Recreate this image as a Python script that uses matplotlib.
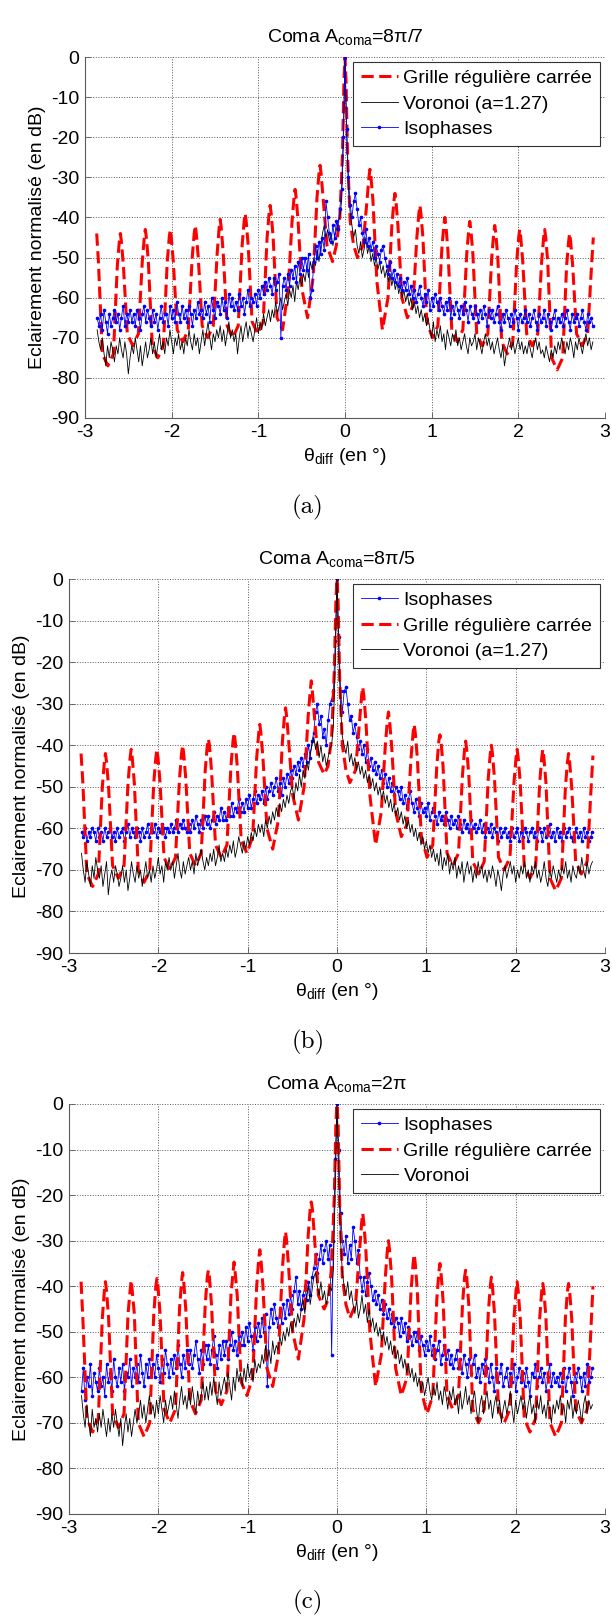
import numpy as np
import matplotlib
matplotlib.use('Agg')
import matplotlib.pyplot as plt

plt.rcParams['font.family'] = ['Liberation Sans', 'DejaVu Sans']
plt.rcParams['mathtext.default'] = 'regular'
plt.rcParams['axes.unicode_minus'] = False

# sampling of the simulated noisy patterns (deg), 0.02 deg step
theta = np.linspace(-2.86, 2.86, 287)

# sampling used for the regular square grid pattern (lobes every ~0.288 deg)
red_theta = [
    -2.865, -2.845, -2.800, -2.736,
    -2.672, -2.627, -2.604, -2.592, -2.580, -2.557, -2.512, -2.448,
    -2.384, -2.339, -2.316, -2.304, -2.292, -2.269, -2.224, -2.160,
    -2.096, -2.051, -2.028, -2.016, -2.004, -1.981, -1.936, -1.872,
    -1.808, -1.763, -1.740, -1.728, -1.716, -1.693, -1.648, -1.584,
    -1.520, -1.475, -1.452, -1.440, -1.428, -1.405, -1.360, -1.296,
    -1.232, -1.187, -1.164, -1.152, -1.140, -1.117, -1.072, -1.008,
    -0.944, -0.899, -0.876, -0.864, -0.852, -0.829, -0.784, -0.720,
    -0.656, -0.611, -0.588, -0.576, -0.564, -0.541, -0.496, -0.432,
    -0.368, -0.323, -0.300, -0.288, -0.276, -0.253, -0.208, -0.144,
    -0.100, -0.060, -0.030, -0.012, 0.000, 0.012, 0.030, 0.060, 0.100, 0.144,
    0.208, 0.253, 0.276, 0.288, 0.300, 0.323, 0.368, 0.432,
    0.496, 0.541, 0.564, 0.576, 0.588, 0.611, 0.656, 0.720,
    0.784, 0.829, 0.852, 0.864, 0.876, 0.899, 0.944, 1.008,
    1.072, 1.117, 1.140, 1.152, 1.164, 1.187, 1.232, 1.296,
    1.360, 1.405, 1.428, 1.440, 1.452, 1.475, 1.520, 1.584,
    1.648, 1.693, 1.716, 1.728, 1.740, 1.763, 1.808, 1.872,
    1.936, 1.981, 2.004, 2.016, 2.028, 2.051, 2.096, 2.160,
    2.224, 2.269, 2.292, 2.304, 2.316, 2.339, 2.384, 2.448,
    2.512, 2.557, 2.580, 2.592, 2.604, 2.627, 2.672, 2.736,
    2.800, 2.845, 2.865,
]

# ---- (a) Coma 8pi/7 ----
grille_a = [
    -44, -51, -74, -77,
    -74, -52, -46, -44, -46, -52, -69, -72,
    -69, -51, -45, -43, -45, -51, -72, -75,
    -72, -51, -45, -43, -45, -51, -68, -71,
    -68, -50, -44, -42, -44, -50, -67, -70,
    -67, -49, -42.5, -40.5, -42.5, -49, -67, -70,
    -67, -47, -41, -39, -41, -47, -66, -69,
    -66, -45, -39, -37, -39, -45, -65, -68,
    -58, -41, -35, -33, -35, -41, -58, -65,
    -55, -35, -29, -27, -29, -35, -47, -51,
    -47, -40, -25, -6, 0, -6, -25, -41, -47, -50,
    -47, -36, -30, -28, -30, -36, -56, -68,
    -60, -42, -36, -34, -36, -42, -60, -65,
    -62, -45, -39, -37, -39, -45, -66, -70,
    -67, -48, -42, -40, -42, -48, -68, -71,
    -68, -49, -43, -41, -43, -49, -69, -72,
    -69, -50, -44, -42, -44, -50, -71, -74,
    -71, -51, -45, -43, -45, -51, -69, -72,
    -69, -51, -45, -43, -45, -51, -75, -78,
    -75, -52, -46, -44, -46, -52, -69, -72,
    -69, -52, -45,
]
voronoi_a = [
    -68, -71, -73, -70, -74, -77, -72, -75, -71, -73,
    -76, -72, -74, -70, -73, -75, -71, -74, -79, -75,
    -72, -74, -70, -73, -76, -72, -77, -74, -71, -75,
    -73, -70, -74, -71, -75, -72, -69, -73, -71, -74,
    -70, -72, -68, -71, -74, -70, -72, -69, -73, -71,
    -74, -70, -72, -68, -71, -73, -69, -72, -70, -74,
    -71, -68, -72, -69, -66, -70, -73, -69, -71, -68,
    -70, -67, -71, -68, -72, -69, -66, -70, -68, -71,
    -69, -74, -70, -67, -71, -68, -66, -70, -67, -69,
    -71, -68, -65, -69, -66, -68, -64, -67, -65, -63,
    -66, -63, -65, -61, -64, -62, -60, -63, -61, -59,
    -62, -58, -60, -57, -61, -56, -58, -55, -57, -54,
    -56, -52, -55, -51, -53, -50, -52, -48, -51, -47,
    -44, -42, -45, -43, -46, -44, -47, -45, -43, -41,
    -40, -36, -22,
    0,
    -20, -33, -39,
    -42, -45, -43, -47, -49, -46, -50, -48, -45, -49,
    -47, -51, -49, -52, -50, -53, -51, -54, -52, -55,
    -53, -56, -54, -57, -55, -58, -56, -59, -57, -60,
    -58, -61, -59, -62, -60, -63, -61, -64, -62, -65,
    -63, -66, -64, -67, -65, -68, -70, -66, -71, -68,
    -70, -67, -71, -69, -73, -68, -70, -72, -69, -71,
    -68, -72, -70, -73, -71, -69, -72, -74, -70, -72,
    -71, -69, -73, -70, -72, -74, -71, -69, -72, -70,
    -73, -71, -74, -72, -70, -73, -75, -72, -77, -74,
    -72, -70, -73, -71, -74, -72, -70, -73, -71, -74,
    -72, -74, -71, -73, -75, -72, -70, -73, -71, -74,
    -73, -75, -72, -74, -76, -73, -75, -72, -74, -71,
    -73, -70, -72, -74, -71, -73, -70, -72, -75, -71,
    -73, -70, -72, -74, -71, -69, -72, -70, -73, -71,
]
isophases_a = [
    -65, -67, -64, -68, -63, -66, -69, -64, -67, -65,
    -63, -66, -64, -68, -65, -62, -67, -64, -66, -63,
    -66, -64, -67, -63, -65, -68, -64, -62, -66, -63,
    -65, -67, -63, -66, -64, -68, -65, -62, -66, -64,
    -64, -67, -62, -65, -63, -66, -61, -64, -66, -62,
    -65, -63, -66, -62, -64, -67, -63, -65, -61, -64,
    -63, -65, -61, -64, -62, -66, -60, -63, -65, -61,
    -62, -64, -60, -63, -61, -65, -59, -62, -60, -63,
    -61, -63, -59, -62, -60, -64, -61, -58, -62, -60,
    -61, -59, -62, -58, -60, -57, -59, -56, -58, -55,
    -57, -59, -55, -58, -56, -54, -70, -57, -55, -58,
    -54, -57, -53, -55, -52, -56, -51, -54, -50, -53,
    -50, -53, -49, -60, -58, -51, -47, -50, -46, -49,
    -45, -48, -36, -40, -44, -46, -42, -45, -41, -43,
    -38, -33, -20,
    0,
    -18, -30, -37,
    -40, -36, -34, -38, -42, -40, -44, -46, -43, -47,
    -45, -48, -46, -50, -47, -49, -51, -48, -47, -50,
    -52, -54, -51, -55, -53, -56, -54, -57, -55, -58,
    -56, -58, -55, -59, -57, -60, -58, -61, -59, -57,
    -60, -62, -59, -61, -58, -63, -60, -62, -59, -61,
    -63, -60, -62, -64, -61, -63, -60, -65, -62, -64,
    -61, -63, -65, -62, -64, -61, -63, -66, -62, -64,
    -65, -62, -64, -66, -63, -65, -62, -64, -67, -63,
    -65, -63, -66, -64, -62, -66, -68, -64, -66, -63,
    -65, -67, -64, -66, -63, -65, -68, -64, -66, -65,
    -63, -66, -64, -67, -65, -63, -66, -68, -64, -66,
    -65, -63, -67, -64, -66, -68, -65, -63, -67, -65,
    -66, -64, -67, -65, -63, -66, -68, -64, -66, -65,
    -64, -67, -65, -63, -66, -68, -64, -66, -65, -67,
]

# ---- (b) Coma 8pi/5 ----
grille_b = [
    -42, -49, -71, -74,
    -71, -50, -44, -42, -44, -50, -69, -72,
    -69, -49, -43, -41, -43, -49, -70, -73,
    -70, -49, -43, -41, -43, -49, -67, -70,
    -67, -48, -42, -40, -42, -48, -66, -69,
    -66, -46, -40, -38.5, -40, -46, -64, -67,
    -64, -45, -39, -37, -39, -45, -63, -66,
    -62, -43, -37, -35, -37, -43, -60, -65,
    -58, -39, -33, -31, -33, -39, -52, -58,
    -50, -33, -27, -24.5, -27, -33, -44, -47,
    -45, -38, -22, -5, 0, -5, -24, -40, -46, -49,
    -46, -34, -28, -26, -28, -34, -52, -64,
    -56, -40, -34, -32, -34, -40, -56, -62,
    -59, -43, -37, -35, -37, -43, -62, -67,
    -64, -45, -39, -37.5, -39, -45, -66, -69,
    -66, -47, -41, -39, -41, -47, -68, -71,
    -68, -48, -42, -40, -42, -48, -67, -70,
    -67, -49, -43, -41, -43, -49, -69, -72,
    -69, -49, -43, -41, -43, -49, -72, -75,
    -72, -50, -44, -42, -44, -50, -68, -71,
    -68, -50, -42.5,
]
voronoi_b = [
    -66, -70, -73, -68, -71, -74, -69, -72, -67, -70,
    -72, -69, -74, -71, -68, -76, -72, -70, -73, -69,
    -71, -74, -72, -69, -73, -70, -75, -72, -68, -71,
    -73, -69, -72, -70, -74, -71, -68, -72, -70, -73,
    -69, -72, -70, -67, -71, -69, -73, -68, -70, -67,
    -70, -68, -72, -69, -66, -70, -72, -68, -71, -69,
    -67, -70, -68, -71, -66, -69, -67, -65, -68, -70,
    -67, -69, -66, -68, -65, -69, -67, -64, -68, -66,
    -68, -65, -67, -64, -66, -63, -67, -65, -62, -64,
    -66, -63, -65, -62, -64, -61, -63, -60, -62, -59,
    -61, -59, -62, -58, -60, -57, -59, -56, -58, -55,
    -57, -54, -56, -53, -55, -52, -54, -51, -50, -53,
    -49, -51, -47, -50, -46, -48, -44, -46, -42, -40,
    -38, -41, -39, -43, -40, -44, -42, -45, -43, -41,
    -40, -35, -20,
    0,
    -18, -31, -38,
    -40, -42, -39, -44, -42, -45, -43, -46, -44, -47,
    -45, -48, -46, -49, -47, -50, -48, -51, -49, -52,
    -50, -53, -51, -54, -52, -55, -53, -56, -54, -57,
    -55, -58, -56, -59, -57, -60, -58, -61, -59, -62,
    -60, -63, -61, -64, -62, -65, -63, -66, -64, -67,
    -65, -68, -66, -69, -65, -70, -67, -69, -66, -71,
    -68, -70, -67, -72, -69, -71, -68, -73, -70, -68,
    -71, -69, -73, -70, -72, -68, -71, -69, -72, -70,
    -73, -70, -72, -69, -71, -74, -70, -72, -75, -71,
    -69, -72, -70, -68, -71, -69, -73, -70, -72, -69,
    -71, -68, -72, -70, -73, -69, -71, -68, -72, -70,
    -73, -71, -68, -72, -74, -70, -72, -69, -71, -73,
    -70, -72, -69, -71, -68, -72, -70, -73, -69, -71,
    -72, -69, -71, -67, -70, -72, -68, -71, -69, -68,
]
isophases_b = [
    -61, -62, -60, -63, -61, -62, -60, -61, -63, -60,
    -62, -61, -63, -60, -62, -61, -60, -62, -61, -63,
    -60, -62, -61, -60, -63, -61, -59, -62, -60, -61,
    -62, -60, -61, -63, -60, -62, -61, -59, -62, -60,
    -61, -59, -62, -60, -61, -59, -60, -62, -60, -61,
    -59, -61, -60, -58, -61, -59, -60, -58, -60, -61,
    -59, -61, -58, -60, -57, -59, -61, -58, -60, -57,
    -59, -57, -60, -58, -56, -59, -57, -58, -55, -58,
    -56, -58, -55, -57, -54, -57, -55, -56, -53, -56,
    -54, -56, -53, -55, -52, -55, -53, -51, -54, -52,
    -53, -51, -54, -50, -53, -51, -49, -52, -50, -48,
    -51, -49, -52, -48, -50, -47, -49, -46, -48, -45,
    -47, -44, -46, -43, -45, -42, -44, -40, -43, -39,
    -37, -32, -30, -35, -33, -38, -36, -40, -34, -30,
    -29, -27, -15,
    0,
    -14, -27, -32,
    -27, -26, -30, -34, -33, -37, -35, -38, -41, -39,
    -42, -40, -44, -41, -45, -43, -46, -44, -47, -45,
    -48, -46, -49, -47, -50, -48, -51, -49, -52, -50,
    -51, -53, -50, -54, -52, -55, -53, -51, -54, -56,
    -53, -55, -57, -54, -56, -55, -57, -54, -58, -56,
    -55, -57, -59, -56, -58, -57, -59, -56, -58, -60,
    -57, -59, -58, -60, -57, -59, -61, -58, -60, -59,
    -61, -58, -60, -59, -61, -60, -58, -61, -59, -62,
    -60, -61, -59, -62, -60, -61, -63, -60, -62, -61,
    -60, -62, -61, -63, -60, -62, -61, -60, -63, -61,
    -62, -60, -61, -63, -61, -60, -62, -61, -63, -60,
    -61, -63, -60, -62, -61, -59, -62, -61, -63, -60,
    -62, -61, -63, -60, -62, -61, -60, -62, -63, -61,
    -60, -62, -61, -63, -60, -62, -61, -63, -62, -61,
]

# ---- (c) Coma 2pi ----
grille_c = [
    -39, -47, -69, -72,
    -69, -47, -41, -39, -41, -47, -68, -71,
    -68, -46, -41, -38.7, -41, -46, -70, -73,
    -70, -46, -40, -38.3, -40, -46, -67, -70,
    -67, -45, -39, -37, -39, -45, -65, -68,
    -65, -44, -38, -36.5, -38, -44, -63, -66,
    -63, -42, -37, -34.7, -37, -42, -61, -64,
    -60, -40, -34, -32, -34, -40, -58, -62,
    -55, -36, -30, -28, -30, -36, -50, -56,
    -47, -29, -23, -21.5, -23, -29, -42, -45,
    -43, -36, -20, -4, 0, -4, -22, -38, -44, -47,
    -44, -32, -26, -24, -26, -32, -50, -62,
    -55, -38, -32, -30, -32, -38, -58, -64,
    -60, -41, -35, -33, -35, -41, -63, -68,
    -64, -43, -37, -35, -37, -43, -64, -67,
    -64, -44, -38, -36.5, -38, -44, -67, -70,
    -67, -46, -40, -38, -40, -46, -67, -70,
    -67, -47, -41, -39, -41, -47, -69, -72,
    -69, -47, -41, -39.4, -41, -47, -70, -73,
    -70, -47, -41, -39.4, -41, -47, -67, -70,
    -67, -48, -40,
]
voronoi_c = [
    -64, -68, -71, -66, -70, -73, -67, -71, -69, -72,
    -68, -71, -67, -70, -73, -69, -72, -68, -71, -67,
    -70, -73, -69, -75, -71, -68, -72, -69, -73, -70,
    -67, -70, -68, -65, -69, -66, -70, -67, -64, -68,
    -66, -69, -65, -68, -64, -67, -70, -65, -68, -66,
    -64, -67, -63, -66, -69, -65, -62, -66, -64, -67,
    -63, -66, -62, -65, -68, -63, -66, -64, -61, -65,
    -62, -65, -61, -64, -60, -63, -66, -61, -64, -62,
    -60, -63, -59, -62, -65, -60, -63, -58, -61, -59,
    -62, -58, -61, -57, -60, -58, -61, -56, -59, -57,
    -58, -55, -57, -53, -56, -54, -57, -52, -55, -53,
    -54, -51, -53, -50, -52, -49, -51, -48, -50, -47,
    -49, -46, -48, -45, -43, -46, -42, -40, -44, -41,
    -38, -37, -40, -42, -39, -43, -41, -44, -42, -40,
    -41, -36, -18,
    0,
    -16, -30, -37,
    -40, -42, -39, -43, -41, -44, -46, -43, -47, -45,
    -42, -46, -44, -48, -45, -49, -47, -50, -48, -51,
    -49, -52, -50, -53, -51, -54, -52, -55, -53, -56,
    -54, -57, -55, -58, -56, -59, -57, -60, -58, -61,
    -59, -62, -60, -63, -61, -64, -62, -60, -63, -65,
    -62, -64, -61, -65, -63, -66, -62, -64, -67, -63,
    -65, -62, -66, -64, -68, -63, -67, -65, -62, -66,
    -64, -68, -65, -63, -67, -70, -66, -64, -68, -65,
    -63, -67, -65, -69, -66, -64, -68, -65, -70, -67,
    -65, -68, -66, -63, -67, -70, -65, -68, -66, -64,
    -67, -65, -69, -66, -64, -68, -66, -70, -65, -67,
    -64, -68, -66, -69, -65, -67, -70, -66, -68, -65,
    -67, -64, -68, -66, -70, -65, -67, -64, -69, -66,
    -68, -65, -67, -70, -66, -64, -68, -65, -67, -66,
]
isophases_c = [
    -63, -58, -65, -60, -62, -57, -64, -59, -61, -63,
    -58, -62, -60, -64, -57, -61, -59, -63, -56, -60,
    -62, -58, -61, -57, -63, -59, -60, -56, -62, -58,
    -60, -57, -61, -55, -59, -62, -57, -60, -56, -59,
    -57, -60, -55, -58, -61, -56, -59, -54, -57, -60,
    -56, -59, -55, -58, -53, -57, -60, -55, -58, -54,
    -57, -54, -58, -55, -52, -56, -59, -54, -57, -53,
    -56, -53, -57, -54, -51, -55, -58, -53, -56, -52,
    -55, -52, -56, -53, -50, -54, -52, -55, -51, -53,
    -50, -53, -49, -52, -48, -51, -54, -49, -52, -48,
    -51, -47, -50, -46, -62, -49, -45, -48, -44, -47,
    -49, -45, -48, -44, -47, -43, -46, -42, -45, -41,
    -38, -44, -41, -45, -42, -40, -43, -39, -42, -38,
    -36, -33, -37, -34, -31, -35, -32, -30, -34, -31,
    -55, -30, -12,
    0,
    -10, -24, -30,
    -33, -29, -35, -31, -34, -27, -30, -35, -32, -38,
    -41, -38, -42, -39, -37, -40, -43, -41, -44, -42,
    -45, -43, -46, -44, -47, -45, -48, -46, -49, -47,
    -48, -51, -47, -50, -48, -52, -49, -51, -53, -50,
    -52, -50, -54, -51, -53, -55, -52, -54, -51, -55,
    -53, -56, -54, -52, -57, -55, -53, -56, -54, -57,
    -55, -58, -56, -54, -58, -56, -59, -55, -57, -60,
    -56, -59, -57, -55, -60, -58, -61, -57, -59, -56,
    -58, -61, -57, -60, -63, -58, -61, -59, -57, -62,
    -60, -58, -62, -59, -61, -57, -63, -60, -58, -61,
    -59, -62, -58, -61, -64, -59, -60, -57, -62, -60,
    -58, -61, -59, -63, -60, -57, -62, -59, -61, -60,
    -62, -59, -61, -58, -63, -60, -58, -61, -64, -59,
    -61, -58, -60, -63, -59, -62, -57, -61, -60, -58,
]

for arr in (voronoi_a, isophases_a, voronoi_b, isophases_b, voronoi_c, isophases_c):
    assert len(arr) == len(theta), len(arr)
for arr in (grille_a, grille_b, grille_c):
    assert len(arr) == len(red_theta), len(arr)

W, H = 612, 1616
fig = plt.figure(figsize=(W / 100, H / 100), dpi=100)

def add_panel(left, top, right, bottom):
    return fig.add_axes([left / W, 1 - bottom / H, (right - left) / W, (bottom - top) / H])

red_style = dict(color=(1, 0, 0), lw=2.2, ls=(0, (4, 1.8)))
blk_style = dict(color='k', lw=0.6)
blu_style = dict(color=(0, 0, 1), lw=0.6, marker='.', ms=3.2)

panels = [
    dict(box=(85, 57, 605, 418), title='Coma A$_{coma}$=8π/7', cap='(a)', cap_y=507,
         curves=[(red_theta, grille_a, red_style, 'Grille régulière carrée'),
                 (theta, voronoi_a, blk_style, 'Voronoi (a=1.27)'),
                 (theta, isophases_a, blu_style, 'Isophases')]),
    dict(box=(69, 579, 605, 953), title='Coma A$_{coma}$=8π/5', cap='(b)', cap_y=1042,
         curves=[(theta, isophases_b, blu_style, 'Isophases'),
                 (red_theta, grille_b, red_style, 'Grille régulière carrée'),
                 (theta, voronoi_b, blk_style, 'Voronoi (a=1.27)')]),
    dict(box=(69, 1104, 605, 1514), title='Coma A$_{coma}$=2π', cap='(c)', cap_y=1602,
         curves=[(theta, isophases_c, blu_style, 'Isophases'),
                 (red_theta, grille_c, red_style, 'Grille régulière carrée'),
                 (theta, voronoi_c, blk_style, 'Voronoi')]),
]

for p in panels:
    ax = add_panel(*p['box'])
    for x, y, st, lab in p['curves']:
        ax.plot(x, y, label=lab, **st)
    ax.set_xlim(-3, 3)
    ax.set_ylim(-90, 0)
    ax.set_xticks(range(-3, 4))
    ax.set_yticks(range(-90, 1, 10))
    ax.grid(True, ls=':', color='0.35', lw=0.7)
    ax.spines['top'].set_visible(False)
    ax.spines['right'].set_visible(False)
    for s in ('left', 'bottom'):
        ax.spines[s].set_color('0.35')
        ax.spines[s].set_linewidth(0.8)
    ax.tick_params(direction='in', length=4, width=0.6, color='0.35',
                   labelsize=14, pad=4)
    ax.set_title(p['title'], fontsize=14, pad=11)
    ax.set_xlabel('θ$_{diff}$ (en °)', fontsize=14, labelpad=4)
    ax.set_ylabel('Eclairement normalisé (en dB)', fontsize=14, labelpad=4)
    leg = ax.legend(loc='upper right', fontsize=14, fancybox=False, framealpha=1,
                    edgecolor='0.2', borderpad=0.4, labelspacing=0.4,
                    handlelength=1.9, handletextpad=0.3, borderaxespad=0.25,
                    numpoints=1)
    leg.get_frame().set_linewidth(0.8)
    fig.text(308 / W, 1 - p['cap_y'] / H, p['cap'], fontfamily='cmr10',
             fontsize=18, ha='center', va='center')

fig.savefig('out.png', dpi=100)
